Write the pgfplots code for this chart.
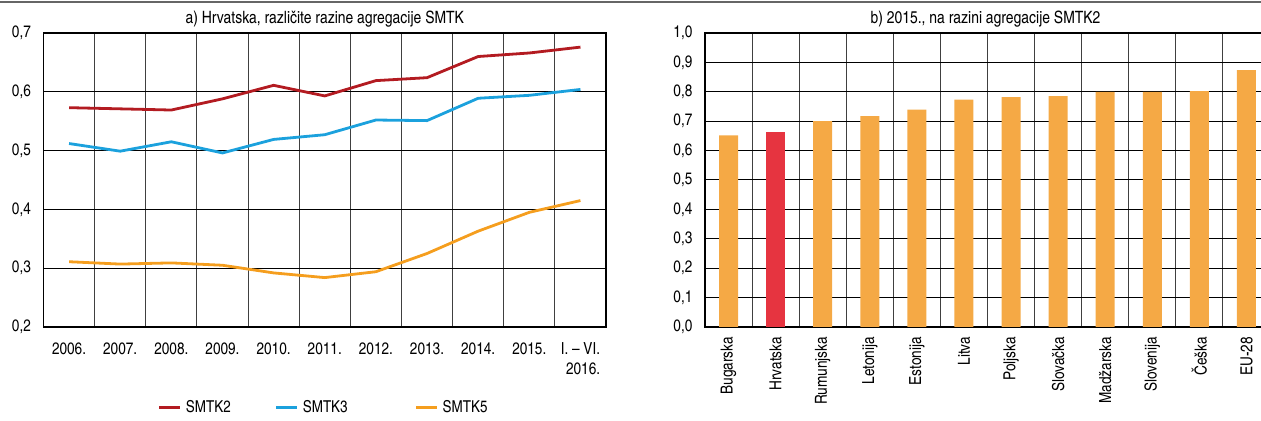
\documentclass[border=0pt]{standalone}
\usepackage{fontspec}
\setmainfont{texgyreheroscn}[Extension=.otf,UprightFont=*-regular,BoldFont=*-bold,ItalicFont=*-italic,BoldItalicFont=*-bolditalic]
\usepackage{pgfplots}
\pgfplotsset{compat=1.18}
\definecolor{cRed}{HTML}{B31B21}
\definecolor{cBlue}{HTML}{1BA1DD}
\definecolor{cOrange}{HTML}{F59E1E}
\definecolor{barOr}{HTML}{F5A945}
\definecolor{barRed}{HTML}{E63440}
\pgfplotsset{
  common/.style={
    scale only axis, anchor=south west, height=147pt,
    major tick length=0pt, minor tick length=0pt,
    axis line style={black, line width=0.6pt},
    major grid style={black, line width=0.5pt},
    minor grid style={black!75, line width=0.5pt},
    ymajorgrids, xminorgrids,
    ticklabel style={font=\fontsize{8.3}{9.8}\selectfont, inner sep=0pt, outer sep=0pt},
    yticklabel shift=6.3pt,
    every axis title/.style={at={(0.5,1)}, anchor=base, yshift=4.5pt, font=\fontsize{8.5}{10}\selectfont},
    /pgf/number format/.cd, use comma, fixed, fixed zerofill, precision=1, assume math mode=true,
  }
}
\begin{document}
\begin{tikzpicture}
\draw[black!60, line width=1pt] (0pt,209.5pt) -- (630.5pt,209.5pt);
\begin{axis}[common,
  at={(21.75pt,47pt)}, width=281.25pt,
  xmin=-0.5, xmax=10.5, ymin=0.2, ymax=0.7,
  ytick={0.2,0.3,0.4,0.5,0.6,0.7},
  xtick={0,1,2,3,4,5,6,7,8,9,10},
  xticklabels={2006.,2007.,2008.,2009.,2010.,2011.,2012.,2013.,2014.,2015.,{I. – VI.\\2016.}},
  xticklabel style={align=right},
  xticklabel shift=8pt,
  minor xtick={0.5,1.5,2.5,3.5,4.5,5.5,6.5,7.5,8.5,9.5},
  title={a) Hrvatska, različite razine agregacije SMTK},
  legend style={at={(0.5,0)}, anchor=center, yshift=-40.5pt, draw=none, fill=none,
    legend columns=3, font=\fontsize{8.2}{9.7}\selectfont,
    /tikz/column 2/.style={column sep=20pt},
    /tikz/column 4/.style={column sep=31.5pt}},
  legend image code/.code={\draw[#1, line width=1.5pt] (0pt,0pt) -- (10.5pt,0pt);},
]
\addplot[cRed, line width=1.4pt] coordinates {(0,0.573) (1,0.571) (2,0.569) (3,0.588) (4,0.611) (5,0.593) (6,0.619) (7,0.624) (8,0.660) (9,0.666) (10,0.676)};
\addlegendentry{SMTK2}
\addplot[cBlue, line width=1.4pt] coordinates {(0,0.512) (1,0.499) (2,0.515) (3,0.496) (4,0.519) (5,0.527) (6,0.552) (7,0.551) (8,0.589) (9,0.594) (10,0.604)};
\addlegendentry{SMTK3}
\addplot[cOrange, line width=1.4pt] coordinates {(0,0.311) (1,0.307) (2,0.309) (3,0.305) (4,0.292) (5,0.284) (6,0.294) (7,0.325) (8,0.363) (9,0.395) (10,0.415)};
\addlegendentry{SMTK5}
\end{axis}
\begin{axis}[common,
  at={(352.5pt,47pt)}, width=282.5pt,
  xmin=-0.5, xmax=11.5, ymin=0, ymax=1,
  ytick={0,0.1,0.2,0.3,0.4,0.5,0.6,0.7,0.8,0.9,1.0},
  xtick={0,1,2,3,4,5,6,7,8,9,10,11},
  xticklabels={Bugarska,Hrvatska,Rumunjska,Letonija,Estonija,Litva,Poljska,Slovačka,Madžarska,Slovenija,Češka,EU-28},
  xticklabel style={rotate=90, anchor=east},
  xticklabel shift=5pt,
  minor xtick={0.5,1.5,2.5,3.5,4.5,5.5,6.5,7.5,8.5,9.5,10.5},
  title={b) 2015., na razini agregacije SMTK2},
  title style={xshift=-1pt},
  ybar, bar width=9.5pt,
]
\addplot[fill=barOr, draw=none, bar shift=0pt] coordinates {(0,0.652) (2,0.700) (3,0.717) (4,0.739) (5,0.773) (6,0.782) (7,0.785) (8,0.800) (9,0.800) (10,0.802) (11,0.874)};
\addplot[fill=barRed, draw=none, bar shift=0pt] coordinates {(1,0.664)};
\end{axis}
\pgfresetboundingbox
\path[use as bounding box] (0pt,0pt) rectangle (630.5pt,210.5pt);
\end{tikzpicture}
\end{document}
